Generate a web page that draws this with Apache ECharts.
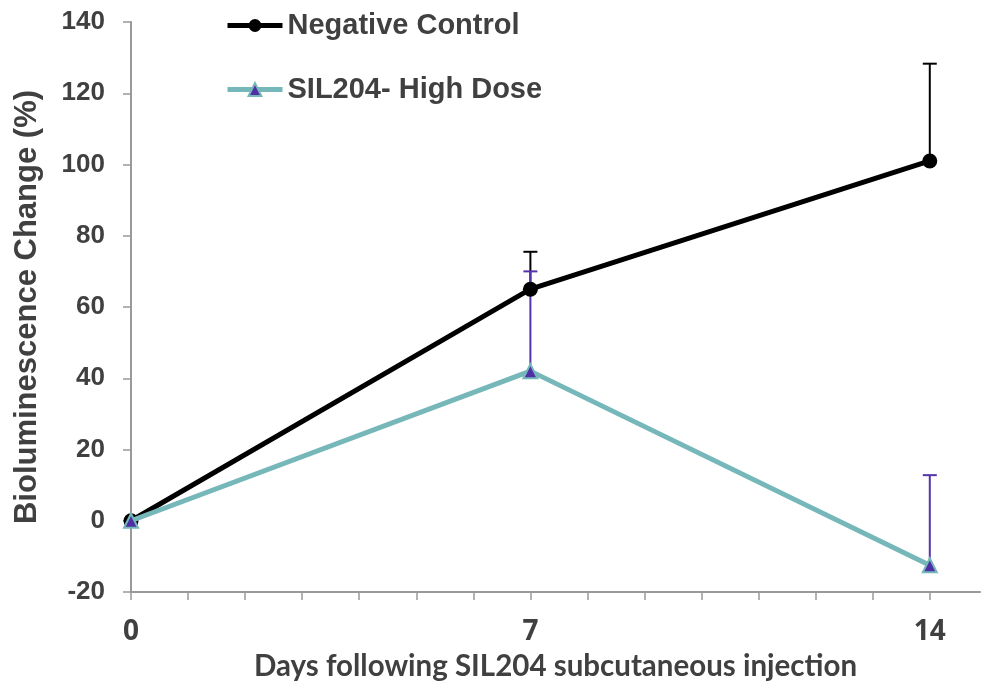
<!DOCTYPE html>
<html><head><meta charset="utf-8">
<script src="https://cdn.jsdelivr.net/npm/echarts@6/dist/echarts.min.js"></script>
<style>html,body{margin:0;padding:0;background:#fff}#c{width:981px;height:682px}</style>
</head><body><div id="c"></div>
<script>
var days = [0, 7, 14];
var xTickLabels = ['0', '7', '14'];
var yTicks = [-20, 0, 20, 40, 60, 80, 100, 120, 140];
var negControl = [0, 65, 101];
var negControlErrUpper = [0, 75.5, 128.3];
var highDose = [0, 42, -12.5];
var highDoseErrUpper = [0, 70, 12.8];

function pairs(xs, ys) { return xs.map(function (x, i) { return [x, ys[i]]; }); }
function errData(xs, ys, up) {
  var out = [];
  for (var i = 0; i < xs.length; i++) { if (up[i] > ys[i]) out.push([xs[i], ys[i], up[i]]); }
  return out;
}
function errRender(color) {
  return function (params, api) {
    var x = api.value(0), y = api.value(1), u = api.value(2);
    var p0 = api.coord([x, y]), p1 = api.coord([x, u]);
    var hw = 7;
    return {
      type: 'group',
      children: [
        { type: 'line', shape: { x1: p0[0], y1: p0[1], x2: p1[0], y2: p1[1] }, style: { stroke: color, lineWidth: 2 } },
        { type: 'line', shape: { x1: p1[0] - hw, y1: p1[1], x2: p1[0] + hw, y2: p1[1] }, style: { stroke: color, lineWidth: 2 } }
      ]
    };
  };
}

var chart = echarts.init(document.getElementById('c'));
var txt = '#404040';
chart.setOption({
  animation: false,
  grid: { left: 131, right: 1, top: 22, bottom: 90, containLabel: false, outerBoundsMode: 'none' },
  legend: {
    orient: 'vertical', left: 225, top: 11, itemGap: 35, padding: 0,
    itemWidth: 55, itemHeight: 16,
    textStyle: { fontFamily: 'Liberation Sans, Arial', fontWeight: 'bold', fontSize: 29, color: txt },
    data: [
      { name: 'Negative Control', lineStyle: { width: 5 } },
      { name: 'SIL204- High Dose', lineStyle: { width: 5 } }
    ]
  },
  xAxis: {
    type: 'value', min: 0, max: 14.88, interval: 1,
    name: 'Days following SIL204 subcutaneous injection',
    nameLocation: 'middle', nameGap: 59,
    nameTextStyle: { fontFamily: 'Lato, Open Sans', fontWeight: 'bold', fontSize: 29.5, color: txt },
    axisLine: { onZero: false, lineStyle: { color: '#999', width: 2 } },
    axisTick: { show: true, length: 8, lineStyle: { color: '#999', width: 1.5 } },
    splitLine: { show: false },
    axisLabel: {
      margin: 26, fontFamily: 'Liberation Sans Narrow, Open Sans', fontWeight: 'bold', fontSize: 28, color: txt,
      showMaxLabel: false,
      formatter: function (v) { var i = days.indexOf(v); return i >= 0 ? xTickLabels[i] : ''; }
    }
  },
  yAxis: {
    type: 'value', min: yTicks[0], max: yTicks[yTicks.length - 1], interval: 20,
    name: 'Bioluminescence Change (%)', nameLocation: 'middle', nameGap: 88, nameRotate: 90,
    nameTextStyle: { fontFamily: 'Liberation Sans, Arial', fontWeight: 'bold', fontSize: 31, color: txt },
    axisLine: { show: true, lineStyle: { color: '#999', width: 2 } },
    axisTick: { show: true, length: 8, lineStyle: { color: '#999', width: 1.5 } },
    splitLine: { show: false },
    axisLabel: { margin: 26, fontFamily: 'Liberation Sans, Arial', fontWeight: 'bold', fontSize: 26, color: txt }
  },
  series: [
    {
      type: 'custom', name: 'ncErr', renderItem: errRender('#000'), z: 1,
      data: errData(days, negControl, negControlErrUpper), encode: { x: 0, y: [1, 2] }
    },
    {
      type: 'custom', name: 'hdErr', renderItem: errRender('#5533aa'), z: 1,
      data: errData(days, highDose, highDoseErrUpper), encode: { x: 0, y: [1, 2] }
    },
    {
      name: 'Negative Control', type: 'line', data: pairs(days, negControl), z: 3,
      symbol: 'circle', symbolSize: 15,
      lineStyle: { color: '#000', width: 5 }, itemStyle: { color: '#000' }
    },
    {
      name: 'SIL204- High Dose', type: 'line', data: pairs(days, highDose), z: 4,
      symbol: 'triangle', symbolSize: 14,
      lineStyle: { color: '#76b8ba', width: 5 },
      itemStyle: { color: '#4f2fa6', borderColor: '#76b8ba', borderWidth: 2 }
    }
  ]
});
</script></body></html>
